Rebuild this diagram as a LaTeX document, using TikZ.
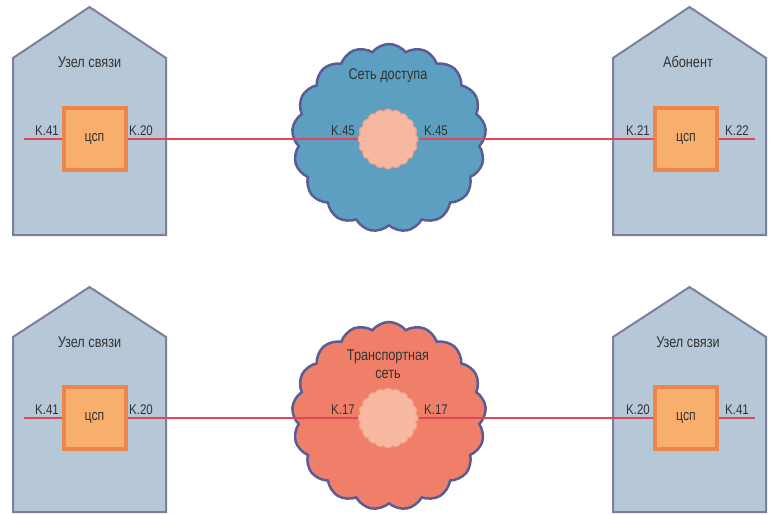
\documentclass[tikz,border=0pt]{standalone}
\usepackage{fontspec}
\setmainfont{Liberation Sans}[FakeStretch=0.82]
\usetikzlibrary{shapes.symbols}
\definecolor{housefill}{HTML}{B6C8D8}
\definecolor{housedraw}{HTML}{7C7E9E}
\definecolor{sqfill}{HTML}{F8AE6C}
\definecolor{sqdraw}{HTML}{EC874C}
\definecolor{bluecloud}{HTML}{5C9FC0}
\definecolor{redcloud}{HTML}{EF7F68}
\definecolor{clouddraw}{HTML}{5A5C96}
\definecolor{innerfill}{HTML}{F7B8A2}
\definecolor{innerdraw}{HTML}{EFA088}
\definecolor{linkred}{HTML}{E2455A}
\definecolor{txt}{HTML}{333333}
\tikzset{
  house/.style={draw=housedraw, fill=housefill, line width=2pt, line join=miter},
  csp/.style={draw=sqdraw, fill=sqfill, line width=4pt, minimum width=62pt, minimum height=62pt, inner sep=0pt, font=\fontsize{15}{17}\selectfont, text=txt},
  bigcloud/.style={cloud, cloud puffs=17, cloud puff arc=105, aspect=1, minimum width=194pt, minimum height=188pt, draw=clouddraw, line width=2.5pt, inner sep=0pt},
  smallcloud/.style={cloud, cloud puffs=20, cloud puff arc=110, aspect=1, minimum width=60pt, minimum height=60pt, draw=innerdraw, fill=innerfill, line width=1pt, inner sep=0pt},
  link/.style={draw=linkred, line width=1.5pt},
  lbl/.style={font=\fontsize{14}{16}\selectfont, text=txt, anchor=south, inner sep=1pt},
  title/.style={font=\fontsize{15.5}{18}\selectfont, text=txt, align=center}
}
\begin{document}
\begin{tikzpicture}[x=1pt,y=-1pt]
\path[use as bounding box, fill=white] (0,0) rectangle (776,514);
% ---------- top row ----------
\draw[house] (13,58) -- (89.5,7) -- (166,58) -- (166,235) -- (13,235) -- cycle;
\draw[house] (613,58) -- (689.5,7) -- (766,58) -- (766,235) -- (613,235) -- cycle;
\node[title] (t1) at (89.5,62) {Узел связи};
\node[title] (t2) at (688,62) {Абонент};
\node[bigcloud, fill=bluecloud] (c1) at (389,138) {};
\node[title] (t3) at (388,76) {Сеть доступа};
\node[csp] (s1) at (94.5,139) {цсп};
\node[csp] (s2) at (686,139) {цсп};
\node[smallcloud] (i1) at (388,139) {};
\coordinate (e1) at (24,139);
\coordinate (e2) at (755,139);
\draw[link] (e1) -- (s1.west);
\draw[link] (s1.east) -- (i1.west);
\draw[link] (i1.east) -- (s2.west);
\draw[link] (s2.east) -- (e2);
\node[lbl] (k1) at (47,137) {K.41};
\node[lbl] (k2) at (141,137) {K.20};
\node[lbl] (k3) at (343,137) {K.45};
\node[lbl] (k4) at (436,137) {K.45};
\node[lbl] (k5) at (638,137) {K.21};
\node[lbl] (k6) at (737,137) {K.22};
% ---------- bottom row ----------
\draw[house] (13,337) -- (89.5,287) -- (166,337) -- (166,512) -- (13,512) -- cycle;
\draw[house] (613,337) -- (689.5,287) -- (766,337) -- (766,512) -- (613,512) -- cycle;
\node[title] (t4) at (89.5,342) {Узел связи};
\node[title] (t5) at (688,342) {Узел связи};
\node[bigcloud, fill=redcloud] (c2) at (389,416) {};
\node[title] (t6) at (388,364) {Транспортная\\сеть};
\node[csp] (s3) at (94.5,418) {цсп};
\node[csp] (s4) at (686,418) {цсп};
\node[smallcloud] (i2) at (388,418) {};
\coordinate (e3) at (24,418);
\coordinate (e4) at (755,418);
\draw[link] (e3) -- (s3.west);
\draw[link] (s3.east) -- (i2.west);
\draw[link] (i2.east) -- (s4.west);
\draw[link] (s4.east) -- (e4);
\node[lbl] (k7) at (47,416) {K.41};
\node[lbl] (k8) at (141,416) {K.20};
\node[lbl] (k9) at (343,416) {K.17};
\node[lbl] (k10) at (436,416) {K.17};
\node[lbl] (k11) at (638,416) {K.20};
\node[lbl] (k12) at (737,416) {K.41};
\end{tikzpicture}
\end{document}
